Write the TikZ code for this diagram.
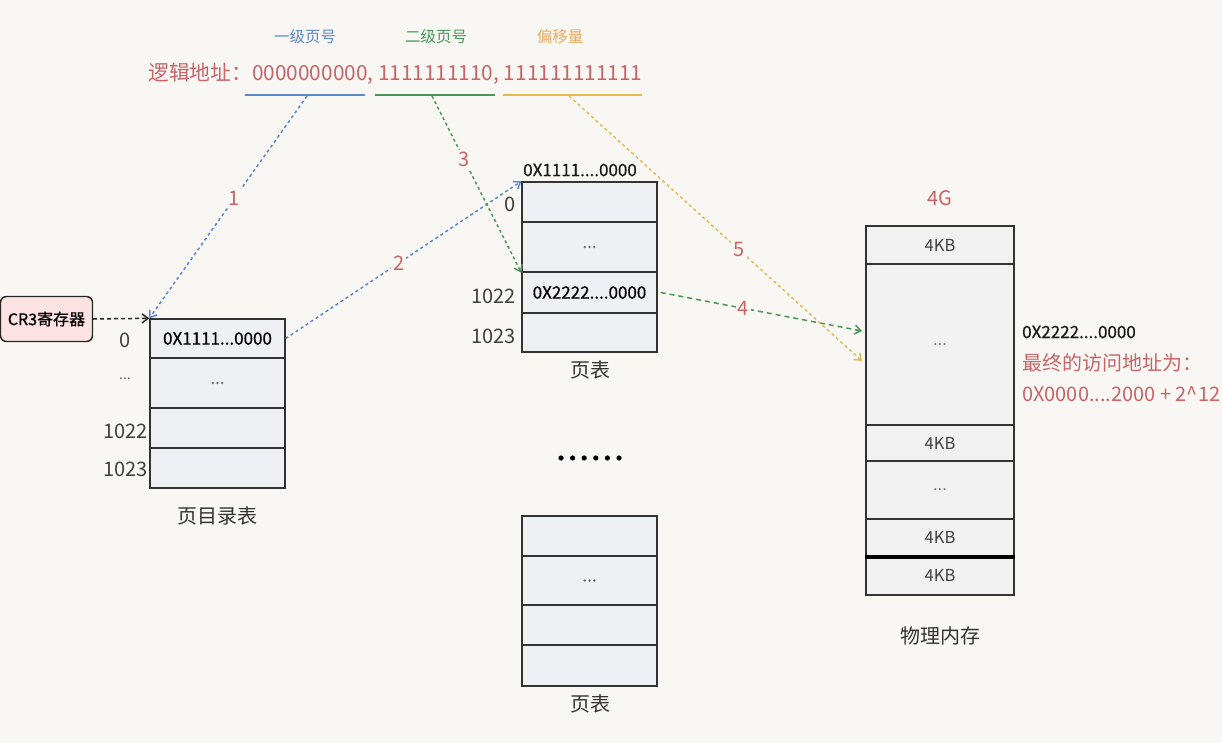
\documentclass[tikz,border=0pt]{standalone}
\usepackage{fontspec}
\setmainfont{Noto Sans CJK SC}
\newfontfamily\semib[FakeBold=0.6]{Noto Sans CJK SC}
\usetikzlibrary{arrows.meta,calc}
\definecolor{bg}{RGB}{248,247,243}
\definecolor{cellfill}{RGB}{238,240,243}
\definecolor{memfill}{RGB}{241,241,241}
\definecolor{tred}{RGB}{200,100,104}
\definecolor{tblue}{RGB}{92,135,200}
\definecolor{tgreen}{RGB}{74,150,90}
\definecolor{tyellow}{RGB}{226,186,80}
\definecolor{torange}{RGB}{232,170,96}
\definecolor{cr3fill}{RGB}{252,226,226}
\begin{document}
\begin{tikzpicture}[x=1pt,y=-1pt,
  cell/.style={draw=black!80, line width=1.4pt, fill=cellfill, minimum width=135pt, inner sep=0pt, font=\semib\fontsize{17}{19}\selectfont},
  memcell/.style={draw=black!80, line width=1.4pt, fill=memfill, minimum width=148pt, inner sep=0pt, font=\fontsize{16.5}{18}\selectfont, text=black!75},
  idx/.style={font=\fontsize{20}{22}\selectfont, text=black!75, anchor=east, inner sep=0pt},
  caption/.style={font=\fontsize{20}{22}\selectfont, text=black!80},
  toplbl/.style={font=\fontsize{15.5}{17}\selectfont},
  numlbl/.style={font=\fontsize{20}{22}\selectfont, text=tred, fill=bg, inner sep=2pt},
  dotline/.style={line width=1.5pt, dash pattern=on 3pt off 3pt, -{Straight Barb[length=6pt,width=9pt]}},
  dots/.style={text=black!60}
]
\useasboundingbox (0,0) rectangle (1222,743);
\fill[bg] (0,0) rectangle (1222,743);

% top labels
\node[toplbl, text=tblue] (lv1) at (305,37) {一级页号};
\node[toplbl, text=tgreen] (lv2) at (436,37) {二级页号};
\node[toplbl, text=torange] (off) at (560,37) {偏移量};
\node[font=\fontsize{20.8}{23}\selectfont, text=tred, anchor=west, inner sep=0pt] (laddr) at (148,74) {逻辑地址：0000000000, 1111111110, 111111111111};

% underlines
\coordinate (u1a) at (245,95); \coordinate (u1b) at (365,95);
\coordinate (u2a) at (375,95); \coordinate (u2b) at (495,95);
\coordinate (u3a) at (503,95); \coordinate (u3b) at (642,95);
\draw[tblue, line width=1.5pt] (u1a) -- (u1b);
\draw[tgreen, line width=1.5pt] (u2a) -- (u2b);
\draw[tyellow, line width=1.5pt] (u3a) -- (u3b);
\coordinate (s1) at (307,96);
\coordinate (s2) at (432,96);
\coordinate (s3) at (569,96);

% CR3
\node[draw=black!85, line width=1.4pt, fill=cr3fill, rounded corners=6pt, minimum width=92pt, minimum height=45pt, inner sep=0pt, font=\semib\fontsize{16}{18}\selectfont] (cr3) at (46.5,319) {CR3寄存器};

% page directory
\node[cell, minimum height=39pt] (d0) at (217.5,338.5) {0X1111...0000};
\node[cell, minimum height=50pt] (d1) at (217.5,383) {\textcolor{black!60}{...}};
\node[cell, minimum height=40pt] (d2) at (217.5,428) {};
\node[cell, minimum height=40pt] (d3) at (217.5,468) {};
\node[idx] (i0) at (131,340) {0};
\node[idx] (i1) at (131,379) {\textcolor{black!60}{\fontsize{14}{16}\selectfont ...}};
\node[idx] (i2) at (148,431) {1022};
\node[idx] (i3) at (148,469) {1023};
\node[caption] (dcap) at (217,516) {页目录表};

% page table 1
\node[font=\semib\fontsize{17}{19}\selectfont, text=black!90] (taddr) at (580,170) {0X1111....0000};
\node[cell, minimum height=40pt] (t0) at (589.5,202) {};
\node[cell, minimum height=50pt] (t1) at (589.5,247) {\textcolor{black!60}{...}};
\node[cell, minimum height=41pt] (t2) at (589.5,292.5) {0X2222....0000};
\node[cell, minimum height=39pt] (t3) at (589.5,332.5) {};
\node[idx] (j0) at (516,204) {0};
\node[idx] (j2) at (516,296) {1022};
\node[idx] (j3) at (516,336) {1023};
\node[caption] (tcap) at (590,370) {页表};

% ellipsis
\foreach \k in {0,...,5} \fill[black] (561+11.6*\k,458) circle (2.6pt);

% page table 2
\node[cell, minimum height=40pt] (p0) at (589.5,536) {};
\node[cell, minimum height=49pt] (p1) at (589.5,580.5) {\textcolor{black!60}{...}};
\node[cell, minimum height=40pt] (p2) at (589.5,625) {};
\node[cell, minimum height=41pt] (p3) at (589.5,665.5) {};
\node[caption] (pcap) at (590,704) {页表};

% physical memory
\node[font=\fontsize{20}{22}\selectfont, text=tred] (g4) at (940,198) {4G};
\node[memcell, minimum height=38pt] (m0) at (940,245) {4KB};
\node[memcell, minimum height=161pt] (m1) at (940,344.5) {\textcolor{black!50}{...}};
\node[memcell, minimum height=36pt] (m2) at (940,443) {4KB};
\node[memcell, minimum height=58pt] (m3) at (940,490) {\textcolor{black!50}{...}};
\node[memcell, minimum height=37pt] (m4) at (940,537.5) {4KB};
\node[memcell, minimum height=39pt] (m5) at (940,575.5) {4KB};
\draw[line width=4pt, black] (m4.south west) -- (m4.south east);
\node[caption] (mcap) at (940,636) {物理内存};

\node[font=\semib\fontsize{17}{19}\selectfont, text=black!90, anchor=west, inner sep=0pt] (fa) at (1022,332) {0X2222....0000};
\node[font=\fontsize{20}{22}\selectfont, text=tred, anchor=west, inner sep=0pt] (fb) at (1022,363) {最终的访问地址为：};
\node[font=\fontsize{20}{22}\selectfont, text=tred, anchor=west, inner sep=0pt] (fc) at (1022,394) {0X0000....2000 + 2\^{}12};

\coordinate (e4) at (862,331);
\coordinate (e5) at (862,361);

% connectors
\draw[dotline, tblue] (s1) -- node[numlbl, pos=0.46] {1} (d0.north west);
\draw[dotline, tblue] (d0.east) -- node[numlbl, pos=0.48] {2} (t0.north west);
\draw[dotline, tgreen] (s2) -- node[numlbl, pos=0.36] {3} (t1.south west);
\draw[dotline, tgreen, dash pattern=on 5pt off 4pt] ($(t2.east)+(3,0)$) -- node[numlbl, pos=0.41] {4} (e4);
\draw[dotline, tyellow] (s3) -- node[numlbl, pos=0.58] {5} (e5);
\draw[line width=1.5pt, black!85, dash pattern=on 4pt off 3pt, -{Straight Barb[length=6pt,width=9pt]}] (cr3.east) -- (d0.north west);
\end{tikzpicture}
\end{document}
